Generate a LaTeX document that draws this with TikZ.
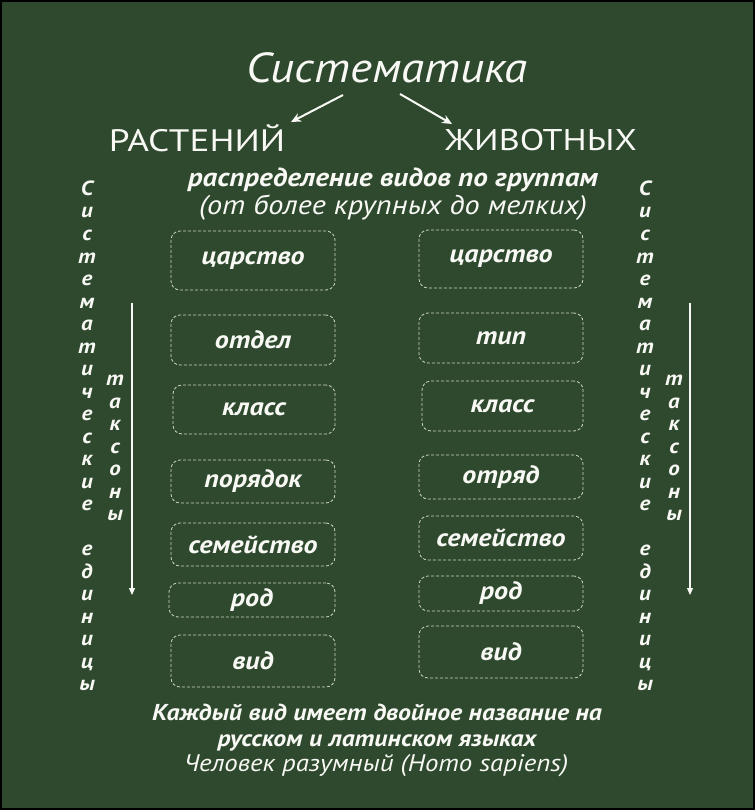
\documentclass[tikz,border=0pt]{standalone}
\usepackage{fontspec}
\setmainfont{PT Sans}
\newfontfamily\handA{PT Sans}[FakeStretch=1.12]
\newfontfamily\handB{PT Sans}[FakeStretch=1.2]
\usetikzlibrary{arrows.meta}
\definecolor{board}{RGB}{46,73,45}
\definecolor{chalk}{RGB}{248,248,244}
\definecolor{dashc}{RGB}{205,210,200}
\tikzset{
  chalktext/.style={text=chalk, inner sep=0pt},
  bottomtext/.style={text=chalk, inner sep=0pt, text height=14pt, text depth=4pt},
  taxbox/.style={draw=dashc, line width=0.8pt, dash pattern=on 3pt off 2pt,
    rounded corners=9pt, minimum width=163pt, inner sep=0pt,
    text=chalk, font=\handA\fontsize{25}{30}\selectfont\bfseries\itshape},
  vletter/.style={text=chalk, inner sep=0pt, text height=10pt, text depth=3pt,
    font=\handA\fontsize{20.5}{24}\selectfont\bfseries\itshape},
  chalkarrow/.style={draw=chalk, line width=2pt, -{Stealth[length=10pt,width=9pt]}},
  downarrow/.style={draw=chalk, line width=1.2pt, -{Triangle[length=7pt,width=6pt]}}
}
\begin{document}
\begin{tikzpicture}[x=1pt,y=-1pt]
\fill[board] (0,0) rectangle (755,810);
\useasboundingbox (0,0) rectangle (755,810);
\draw[black, line width=2pt] (1,1) rectangle (754,809);

% title and branches
\node[chalktext, font=\handA\fontsize{42}{48}\selectfont\itshape] (title) at (387,68) {Систематика};
\node[chalktext, font=\handB\fontsize{31}{36}\selectfont] (plants) at (197,138) {РАСТЕНИЙ};
\node[chalktext, font=\handB\fontsize{30}{36}\selectfont] (animals) at (541,140) {ЖИВОТНЫХ};
\coordinate (aL1) at (343,95);
\coordinate (aL2) at (291,122);
\coordinate (aR1) at (400,94);
\coordinate (aR2) at (452,124);
\draw[chalkarrow] (aL1) -- (aL2);
\draw[chalkarrow] (aR1) -- (aR2);

\node[chalktext, font=\handA\fontsize{26}{30}\selectfont\bfseries\itshape] (sub1) at (393,180) {распределение видов по группам};
\node[chalktext, font=\handA\fontsize{27}{30}\selectfont\itshape] (sub2) at (393,208) {(от более крупных до мелких)};

% left boxes
\node[taxbox, minimum height=59pt, minimum width=164pt] (p1) at (253,260.5) {царство};
\node[taxbox, minimum height=50pt, minimum width=164pt] (p2) at (253,340) {отдел};
\node[taxbox, minimum height=49pt, minimum width=162pt] (p3) at (254,409.5) {класс};
\node[taxbox, minimum height=43pt, minimum width=164pt] (p4) at (253,481.5) {порядок};
\node[taxbox, minimum height=43pt, minimum width=164pt] (p5) at (253,544.5) {семейство};
\node[taxbox, minimum height=34pt, minimum width=166pt] (p6) at (252,600) {род};
\node[taxbox, minimum height=52pt, minimum width=164pt] (p7) at (253,661) {вид};

% right boxes
\node[taxbox, minimum height=58pt, minimum width=164pt] (a1) at (501,259) {царство};
\node[taxbox, minimum height=50pt, minimum width=164pt] (a2) at (501,338) {тип};
\node[taxbox, minimum height=50pt, minimum width=161pt] (a3) at (502.5,406) {класс};
\node[taxbox, minimum height=44pt, minimum width=164pt] (a4) at (501,477) {отряд};
\node[taxbox, minimum height=44pt, minimum width=164pt] (a5) at (501,538) {семейство};
\node[taxbox, minimum height=35pt, minimum width=164pt] (a6) at (501,593.5) {род};
\node[taxbox, minimum height=52pt, minimum width=164pt] (a7) at (501,652) {вид};

% vertical labels
\foreach \ch [count=\i] in {С,и,с,т,е,м,а,т,и,ч,е,с,к,и,е,{},е,д,и,н,и,ц,ы} {
  \node[vletter] (ls\i) at (87,{192+(\i-1)*22.5}) {\ch};
  \node[vletter] (rs\i) at (645,{192+(\i-1)*22.5}) {\ch};
}
\foreach \ch [count=\i] in {т,а,к,с,о,н,ы} {
  \node[vletter] (lt\i) at (115,{382+(\i-1)*22.5}) {\ch};
  \node[vletter] (rt\i) at (674,{382+(\i-1)*22.5}) {\ch};
}
\coordinate (lv1) at (132,303);
\coordinate (lv2) at (132,595);
\coordinate (rv1) at (690,303);
\coordinate (rv2) at (690,595);
\draw[downarrow] (lv1) -- (lv2);
\draw[downarrow] (rv1) -- (rv2);

% bottom
\node[bottomtext, font=\handA\fontsize{23}{28}\selectfont\bfseries\itshape] (b1) at (377,715) {Каждый вид имеет двойное название на};
\node[bottomtext, font=\handA\fontsize{23}{28}\selectfont\bfseries\itshape] (b2) at (377,741) {русском и латинском языках};
\node[bottomtext, font=\handA\fontsize{24}{28}\selectfont\itshape] (b3) at (376,766) {Человек разумный (Homo sapiens)};
\end{tikzpicture}
\end{document}
